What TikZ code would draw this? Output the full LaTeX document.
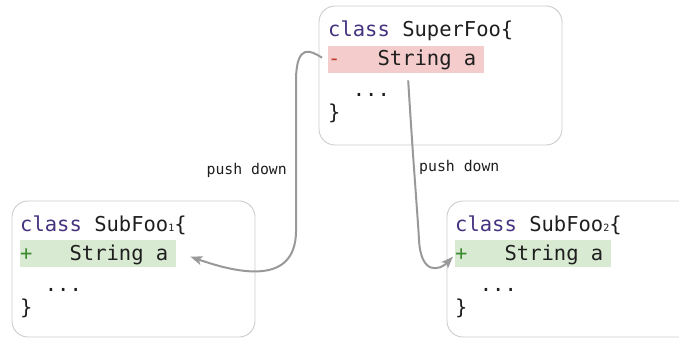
\documentclass[tikz,border=0pt]{standalone}
\usepackage{fontspec}
\setmonofont{DejaVu Sans Mono}
\usetikzlibrary{arrows.meta,calc}
\definecolor{kw}{HTML}{45327F}
\definecolor{txt}{HTML}{1E1E1E}
\definecolor{hlr}{HTML}{F4CCCC}
\definecolor{hlg}{HTML}{D9EAD3}
\definecolor{minus}{HTML}{C0392B}
\definecolor{plus}{HTML}{3C8A2E}
\definecolor{arr}{HTML}{999999}
\definecolor{bord}{HTML}{CCCCCC}
\begin{document}
\begin{tikzpicture}[x=1pt,y=-1pt,
  codebox/.style={draw=bord,line width=0.9pt,rounded corners=16pt},
  code/.style={anchor=base west,inner sep=0pt,font=\ttfamily\fontsize{20.5}{24}\selectfont,text=txt},
  hlrow/.style={anchor=north west,inner sep=0pt,minimum width=156pt,minimum height=27pt},
  lbl/.style={inner sep=0pt,font=\ttfamily\fontsize{14.8}{17}\selectfont,text=txt},
  pushed/.style={draw=arr,line width=2pt,-{Stealth[length=12pt,width=9pt,inset=3pt]}}]
\useasboundingbox (0,0) rectangle (679,339);
% boxes
\draw[codebox] (319,6) rectangle (562,145);
\draw[codebox] (12,201) rectangle (255,337);
\draw[codebox] (447,201) rectangle (700,337);
% highlights
\node[hlrow,fill=hlr] (srow) at (328,46) {};
\node[hlrow,fill=hlg] (arow) at (20,240) {};
\node[hlrow,fill=hlg] (brow) at (455,240) {};
% SuperFoo
\node[code] (s1) at (328,37) {\textcolor{kw}{class} SuperFoo\{};
\node[code] (s2) at (328,66) {\textcolor{minus}{-}\ \ \ String a};
\node[code] (s3) at (328,97) {\ \ ...};
\node[code] (s4) at (328,120) {\}};
% SubFoo1
\node[code] (a1) at (20,231) {\textcolor{kw}{class} SubFoo{\fontsize{10}{10}\selectfont 1}\{};
\node[code] (a2) at (20,260) {\textcolor{plus}{+}\ \ \ String a};
\node[code] (a3) at (20,291) {\ \ ...};
\node[code] (a4) at (20,314) {\}};
% SubFoo2
\node[code] (b1) at (455,231) {\textcolor{kw}{class} SubFoo{\fontsize{10}{10}\selectfont 2}\{};
\node[code] (b2) at (455,260) {\textcolor{plus}{+}\ \ \ String a};
\node[code] (b3) at (455,291) {\ \ ...};
\node[code] (b4) at (455,314) {\}};
% labels
\node[lbl,anchor=east] (l1) at (287,170) {push down};
\node[lbl,anchor=west] (l2) at (419,167) {push down};
% connectors
\coordinate (p1s) at ($(srow.west)+(-6,-2)$);
\coordinate (p1e) at ($(arow.east)+(14,3)$);
\draw[pushed] (p1s) .. controls (310,50) and (297,44) .. (296,78) -- (296,232)
   .. controls (295,285) and (240,274) .. (p1e);
\coordinate (p2s) at ($(srow.south)+(2,7)$);
\coordinate (p2e) at ($(brow.west)+(-2,3)$);
\draw[pushed] (p2s) .. controls (413,160) and (418,220) .. (419,240)
   .. controls (421,276) and (440,270) .. (p2e);
\end{tikzpicture}
\end{document}
